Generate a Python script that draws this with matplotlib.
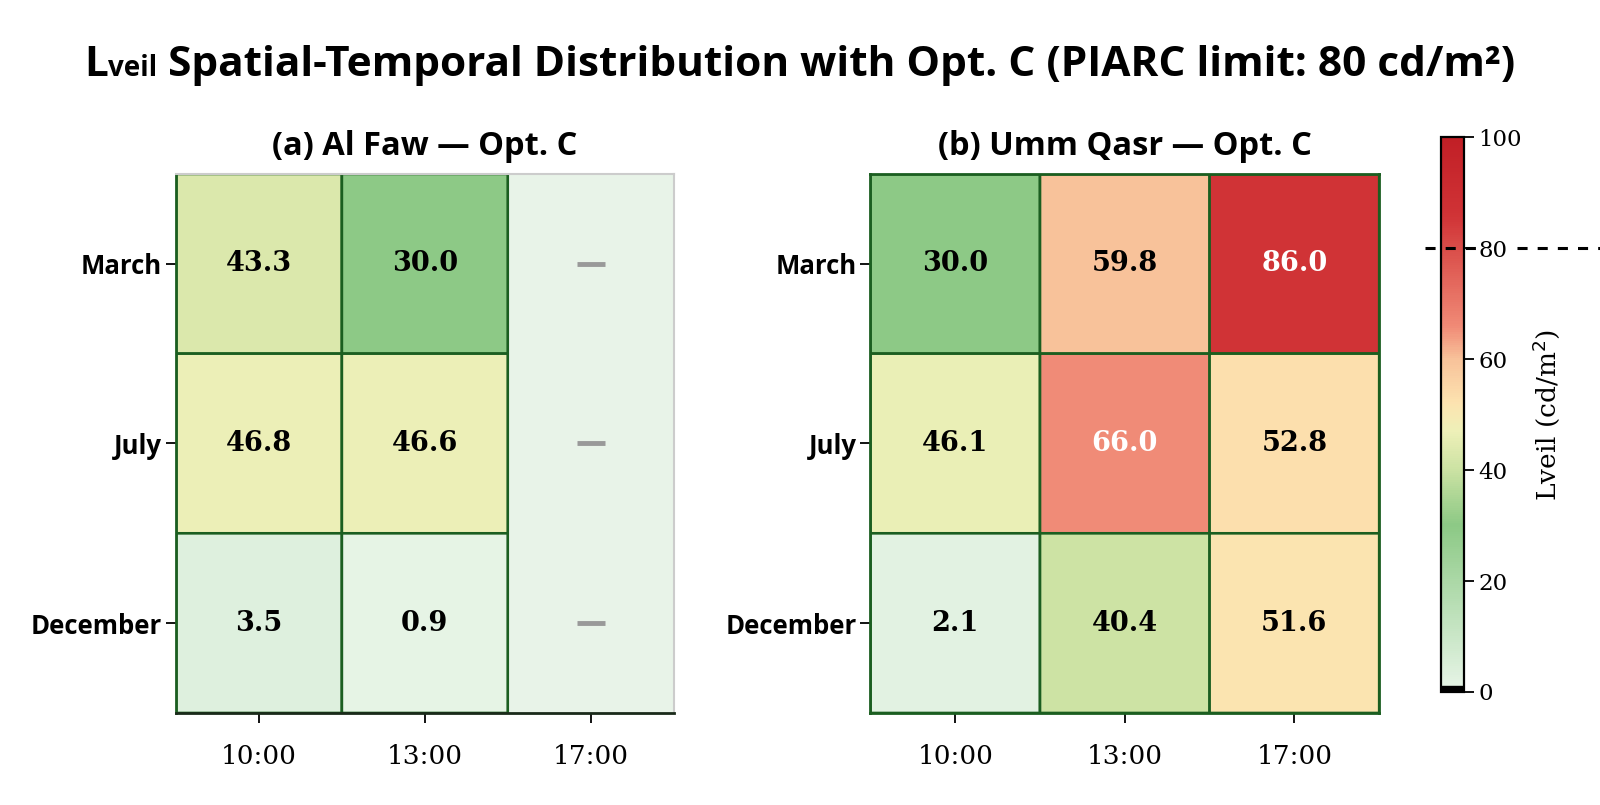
import numpy as np
import matplotlib.pyplot as plt
from matplotlib.colors import LinearSegmentedColormap, Normalize
from matplotlib.lines import Line2D
from matplotlib.transforms import blended_transform_factory

months = ['March', 'July', 'December']
times = ['10:00', '13:00', '17:00']
al_faw = [[43.3, 30.0, np.nan],
          [46.8, 46.6, np.nan],
          [3.5, 0.9, np.nan]]
umm_qasr = [[30.0, 59.8, 86.0],
            [46.1, 66.0, 52.8],
            [2.1, 40.4, 51.6]]
panel_titles = ['(a) Al Faw — Opt. C', '(b) Umm Qasr — Opt. C']
cbar_ticks = [0, 20, 40, 60, 80, 100]
limit = 80

# colormap green -> yellow -> red
cmap = LinearSegmentedColormap.from_list('lveil', [
    (0.00, '#e8f5e8'), (0.30, '#8cc985'), (0.40, '#cbe2a3'),
    (0.47, '#eef0b8'), (0.52, '#fce3b0'), (0.60, '#f8c29a'),
    (0.66, '#f08a76'), (0.86, '#d03336'), (1.00, '#c11f26')])
norm = Normalize(0, 100)

SANS = 'Open Sans'
SERIF = 'DejaVu Serif'
EDGE = '#1b5e20'

fig = plt.figure(figsize=(16, 8.05), dpi=100)
ax1 = fig.add_axes([0.110, 0.1143, 0.311, 0.6696])
ax2 = fig.add_axes([0.544, 0.1143, 0.318, 0.6696])
cax = fig.add_axes([0.9006, 0.1404, 0.0144, 0.689])

for ax, data, ttl in zip([ax1, ax2], [al_faw, umm_qasr], panel_titles):
    arr = np.ma.masked_invalid(np.array(data))
    ax.set_facecolor('#e8f3e8')
    ax.pcolor(arr, cmap=cmap, norm=norm, edgecolors=EDGE, linewidth=1.9)
    ax.set_xlim(0, 3)
    ax.set_ylim(3, 0)
    ax.set_xticks(np.arange(3) + 0.5, times, fontsize=19, family=SERIF)
    ax.set_yticks(np.arange(3) + 0.5, months, fontsize=18.5, family=SANS,
                  fontweight='bold')
    ax.tick_params(length=7, width=1.3)
    ax.tick_params(axis='x', pad=15)
    ax.tick_params(axis='y', pad=3)
    ax.set_title(ttl, fontsize=23.5, family=SANS, fontweight='bold', pad=14)
    for i in range(3):
        for j in range(3):
            v = data[i][j]
            if np.isnan(v):
                # missing value marker
                ax.plot(j + 0.5, i + 0.5, marker='_', ms=20, mew=3.5,
                        color='#999999')
            else:
                ax.text(j + 0.5, i + 0.5, f'{v:.1f}', ha='center', va='center',
                        fontsize=19.5, family=SERIF, fontweight='bold',
                        color='white' if v > 62 else 'black')

for s in ax1.spines.values():
    s.set_color('#cccccc')
    s.set_linewidth(1.5)
ax1.spines['left'].set_color(EDGE)
ax1.spines['left'].set_linewidth(2)
ax1.spines['bottom'].set_color('#1a2a1a')
ax1.spines['bottom'].set_linewidth(2)
for s in ax2.spines.values():
    s.set_color(EDGE)
    s.set_linewidth(2)

cb = fig.colorbar(plt.cm.ScalarMappable(norm=norm, cmap=cmap), cax=cax)
cb.set_ticks(cbar_ticks)
cb.ax.tick_params(labelsize=16.5, length=7, width=1.3)
for lab in cb.ax.get_yticklabels():
    lab.set_family(SERIF)
cb.set_label('Lveil (cd/m$^2$)', fontsize=19, family=SERIF, labelpad=6)
cb.outline.set_linewidth(1.6)
cax.axhspan(0, 1.1, color='black')

# PIARC limit line
tr = blended_transform_factory(fig.transFigure, cax.transData)
for x0, x1 in [(0.8906, 0.926), (0.948, 1.0)]:
    fig.add_artist(Line2D([x0, x1], [limit, limit], transform=tr,
                          color='black', lw=2.2, ls=(0, (3.3, 3.3))))

# title with small "veil"
fig.canvas.draw()
r = fig.canvas.get_renderer()
ty = 0.906
parts = [('L', 30.5), ('veil', 20), (' Spatial-Temporal Distribution with Opt. C (PIARC limit: 80 cd/m²)', 30.5)]
texts = [fig.text(0, ty, p, fontsize=s, family=SANS, fontweight='bold', va='baseline')
         for p, s in parts]
widths = [t.get_window_extent(r).width for t in texts]
x = (fig.bbox.width - sum(widths)) / 2
for t, w in zip(texts, widths):
    t.set_x(x / fig.bbox.width)
    x += w

fig.savefig('out.png', dpi=100)
